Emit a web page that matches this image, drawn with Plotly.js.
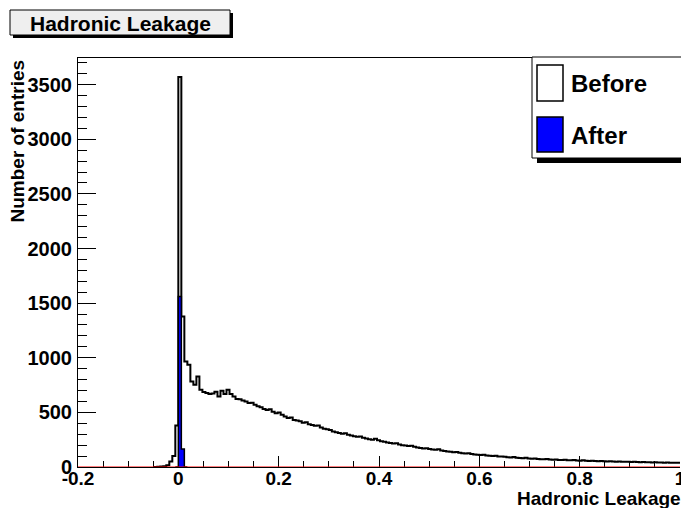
<!DOCTYPE html>
<html>
<head>
<meta charset="utf-8">
<script src="https://cdn.plot.ly/plotly-3.0.1.min.js"></script>
<style>
html,body{margin:0;padding:0;background:#fff;}
#chart{width:681px;height:508px;}
</style>
</head>
<body>
<div id="chart"></div>
<script>
// ---- data ----
const binWidth = 0.006;
const beforeStart = -0.048;   // left edge of first "Before" bin
const beforeCounts = [
  1, 2, 4, 8, 16, 50, 100, 380,
  3570, 1378, 966, 936, 783, 753, 829, 707, 686, 677,
  668, 672, 689, 646, 698, 668, 707, 668, 646, 622,
  620, 609, 600, 585, 588, 570, 555, 548, 530, 522,
  528, 505, 492, 500, 478, 463, 448, 452, 430, 425,
  418, 405, 410, 392, 385, 378, 380, 362, 350, 345,
  338, 325, 318, 312, 305, 310, 296, 288, 282, 276,
  280, 268, 262, 255, 250, 258, 244, 236, 232, 224,
  220, 215, 218, 206, 200, 196, 192, 195, 185, 178,
  175, 170, 172, 165, 160, 158, 162, 150, 147, 143,
  140, 136, 138, 130, 127, 124, 126, 118, 115, 113,
  110, 112, 106, 103, 100, 104, 97, 95, 93, 90,
  88, 91, 85, 83, 81, 84, 78, 76, 77, 73,
  72, 70, 73, 68, 67, 69, 65, 64, 66, 62,
  61, 64, 60, 58, 62, 57, 56, 58, 54, 53,
  55, 52, 51, 53, 50, 49, 51, 48, 47, 49,
  46, 47, 45, 44, 46, 43, 44, 42, 43, 41,
  42, 40, 41, 39, 40, 38, 39
];
const afterStart = -0.006;
const afterCounts = [0, 1560, 165, 0];
const fitX = [-0.2, 1.0];
const fitY = [0, 0];
const xTickVals = [-0.2, 0, 0.2, 0.4, 0.6, 0.8, 1.0];
const xTickText = ['-0.2', '0', '0.2', '0.4', '0.6', '0.8', '1'];
const yTickVals = [0, 500, 1000, 1500, 2000, 2500, 3000, 3500];
const yTickText = ['0', '500', '1000', '1500', '2000', '2500', '3000', '3500'];

// build step outlines from bins
function steps(start, counts) {
  const xs = [start], ys = [0];
  for (let i = 0; i < counts.length; i++) {
    xs.push(start + i * binWidth);
    ys.push(counts[i]);
  }
  xs.push(start + counts.length * binWidth);
  ys.push(0);
  return {xs, ys};
}
const b = steps(beforeStart, beforeCounts);
const a = steps(afterStart, afterCounts);

const FONT = 'Liberation Sans, Arial, sans-serif';

// pixel helpers for decorations (plot area: x 78..680, y 58..467)
const L = 78, R = 1, T = 58, B = 41, W = 681, H = 508;
const pw = W - L - R, ph = H - T - B;
const px = v => (v - L) / pw;
const py = v => (H - B - v) / ph;

const traces = [
  {x: b.xs, y: b.ys, type: 'scatter', mode: 'lines',
   line: {shape: 'hv', color: '#000', width: 2}, hoverinfo: 'skip', showlegend: false},
  {x: a.xs, y: a.ys, type: 'scatter', mode: 'lines', fill: 'tozeroy',
   fillcolor: '#0000ff', line: {shape: 'hv', color: '#000', width: 1.5}, hoverinfo: 'skip', showlegend: false},
  {x: fitX, y: fitY, type: 'scatter', mode: 'lines',
   line: {color: '#ff0000', width: 1.2}, hoverinfo: 'skip', showlegend: false}
];

const shapes = [
  // title box shadow + box
  {type: 'rect', xref: 'paper', yref: 'paper', x0: px(13), x1: px(233), y0: py(13), y1: py(38),
   fillcolor: '#000', line: {width: 0}, layer: 'above'},
  {type: 'rect', xref: 'paper', yref: 'paper', x0: px(10), x1: px(230), y0: py(10), y1: py(35),
   fillcolor: '#efefef', line: {color: '#000', width: 1}, layer: 'above'},
  // legend shadow + box
  {type: 'rect', xref: 'paper', yref: 'paper', x0: px(537), x1: px(700), y0: py(62), y1: py(163),
   fillcolor: '#000', line: {width: 0}, layer: 'above'},
  {type: 'rect', xref: 'paper', yref: 'paper', x0: px(532), x1: px(695), y0: py(57), y1: py(158),
   fillcolor: '#fff', line: {color: '#000', width: 1}, layer: 'above'},
  // legend swatches
  {type: 'rect', xref: 'paper', yref: 'paper', x0: px(537), x1: px(563), y0: py(65), y1: py(101),
   fillcolor: '#fff', line: {color: '#000', width: 1.5}, layer: 'above'},
  {type: 'rect', xref: 'paper', yref: 'paper', x0: px(537), x1: px(563), y0: py(117), y1: py(152),
   fillcolor: '#0000ff', line: {color: '#000', width: 1.5}, layer: 'above'}
];

const annotations = [
  {text: 'Hadronic Leakage', xref: 'paper', yref: 'paper', x: px(120), y: py(23),
   xanchor: 'center', yanchor: 'middle', showarrow: false,
   font: {family: FONT, size: 21, color: '#000', weight: 700}},
  {text: 'Before', xref: 'paper', yref: 'paper', x: px(569), y: py(84),
   xanchor: 'left', yanchor: 'middle', showarrow: false,
   font: {family: FONT, size: 24, color: '#000', weight: 700}},
  {text: 'After', xref: 'paper', yref: 'paper', x: px(569), y: py(135),
   xanchor: 'left', yanchor: 'middle', showarrow: false,
   font: {family: FONT, size: 24, color: '#000', weight: 700}},
  {text: 'Number of entries', xref: 'paper', yref: 'paper', x: px(17), y: py(58),
   xanchor: 'center', yanchor: 'top', textangle: -90, showarrow: false,
   font: {family: FONT, size: 19, color: '#000', weight: 700}},
  {text: 'Hadronic Leakage', xref: 'paper', yref: 'paper', x: px(683), y: py(498),
   xanchor: 'right', yanchor: 'middle', showarrow: false,
   font: {family: FONT, size: 19, color: '#000', weight: 700}}
];

const layout = {
  width: W, height: H,
  margin: {l: L, r: R, t: T, b: B, pad: 0},
  paper_bgcolor: '#fff', plot_bgcolor: '#fff',
  showlegend: false,
  font: {family: FONT, color: '#000'},
  xaxis: {
    range: [-0.2, 1.0], tickmode: 'array', tickvals: xTickVals, ticktext: xTickText,
    ticks: 'inside', ticklen: 11, tickwidth: 1, tickcolor: '#000',
    minor: {ticks: 'inside', dtick: 0.05, tick0: 0, ticklen: 6, tickcolor: '#000', tickwidth: 1},
    showline: true, linecolor: '#000', linewidth: 1, mirror: true,
    showgrid: false, zeroline: false, layer: 'below traces',
    ticklabeloverflow: 'allow',
    tickfont: {family: FONT, size: 19, color: '#000', weight: 700}, ticklabelstandoff: -6
  },
  yaxis: {
    range: [0, 3744], tickmode: 'array', tickvals: yTickVals, ticktext: yTickText,
    ticks: 'inside', ticklen: 18, tickwidth: 1, tickcolor: '#000',
    minor: {ticks: 'inside', dtick: 100, tick0: 0, ticklen: 9, tickcolor: '#000', tickwidth: 1},
    showline: true, linecolor: '#000', linewidth: 1,
    showgrid: false, zeroline: false, layer: 'below traces',
    tickfont: {family: FONT, size: 20, color: '#000', weight: 700}, ticklabelstandoff: 1
  },
  shapes: shapes,
  annotations: annotations
};

Plotly.newPlot('chart', traces, layout, {staticPlot: true, displayModeBar: false});
</script>
</body>
</html>
